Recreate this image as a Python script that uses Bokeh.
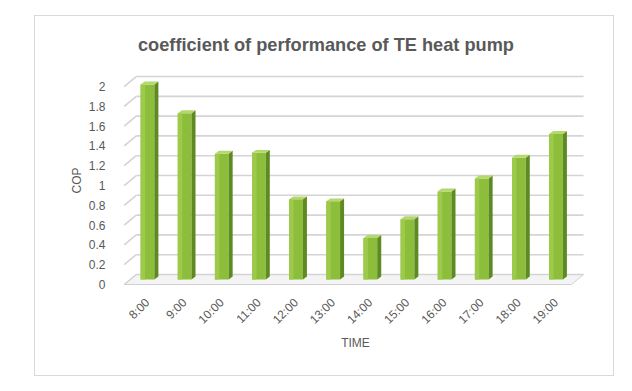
import math
from bokeh.plotting import figure
from bokeh.models import Range1d, FixedTicker, ColumnDataSource, Title
from bokeh.embed import file_html
from bokeh.resources import INLINE

# ---- data ----
times = ["8:00", "9:00", "10:00", "11:00", "12:00", "13:00",
         "14:00", "15:00", "16:00", "17:00", "18:00", "19:00"]
cop = [1.97, 1.68, 1.27, 1.28, 0.81, 0.79, 0.42, 0.61, 0.89, 1.02, 1.23, 1.47]
y_ticks = [0, 0.2, 0.4, 0.6, 0.8, 1, 1.2, 1.4, 1.6, 1.8, 2]
y_tick_labels = ["0", "0.2", "0.4", "0.6", "0.8", "1", "1.2", "1.4", "1.6", "1.8", "2"]
title_text = "coefficient of performance of TE heat pump"

# ---- 3D style constants (data units) ----
HALF_W = 0.185      # half width of bar front face
SIDE_DX = 0.108     # bar depth (x)
CAP_DY = 0.03       # bar depth (y)
LIFT = 0.05         # bars stand in the middle of the floor depth
WALL_DX = 0.323     # depth of the wall/floor (x)
WALL_DY = 0.101     # depth of the wall/floor (y)
FRONT_LEFT = 0.373
BACK_RIGHT = 12.74

idx = list(range(1, len(times) + 1))

p = figure(width=580, height=361,
           x_range=Range1d(0.246, 12.955), y_range=Range1d(-0.0707, 2.172),
           output_backend="svg", toolbar_location=None,
           min_border_left=84, min_border_right=24,
           min_border_top=53, min_border_bottom=86)
p.margin = (15, 0, 0, 34)
p.styles = {"border": "1px solid #d9d9d9", "box-sizing": "border-box"}
p.outline_line_color = None
p.grid.visible = False
p.background_fill_color = "white"
p.border_fill_color = "white"

p.title = Title(text=title_text, align="left", offset=18.5, standoff=30,
                text_font="Liberation Sans", text_font_size="18.2px",
                text_font_style="bold", text_color="#595959")

# floor
p.patch([FRONT_LEFT, BACK_RIGHT - WALL_DX, BACK_RIGHT, FRONT_LEFT + WALL_DX],
        [0, 0, WALL_DY, WALL_DY], fill_color="#f4f4f4", line_color="#d0d0d0", line_width=1)

# gridlines: left wall (slanted) and back wall
gl = ColumnDataSource(dict(
    x0=[FRONT_LEFT] * len(y_ticks), y0=y_ticks,
    x1=[FRONT_LEFT + WALL_DX] * len(y_ticks), y1=[v + WALL_DY for v in y_ticks],
    x2=[BACK_RIGHT] * len(y_ticks),
))
p.segment(x0="x0", y0="y0", x1="x1", y1="y1", source=gl, line_color="#d4d4d4", line_width=1.6)
p.segment(x0="x1", y0="y1", x1="x2", y1="y1", source=gl, line_color="#d4d4d4", line_width=1.6)

# bars
tops = [v + LIFT for v in cop]
bars = ColumnDataSource(dict(
    left=[i - HALF_W for i in idx], right=[i + HALF_W for i in idx],
    hl=[i - HALF_W + 0.12 for i in idx],
    bottom=[LIFT] * len(idx), top=tops,
    side_x=[[i + HALF_W, i + HALF_W + SIDE_DX, i + HALF_W + SIDE_DX, i + HALF_W] for i in idx],
    side_y=[[LIFT, LIFT + CAP_DY, t + CAP_DY, t] for t in tops],
    cap_x=[[i - HALF_W, i + HALF_W, i + HALF_W + SIDE_DX, i - HALF_W + SIDE_DX] for i in idx],
    cap_y=[[t, t, t + CAP_DY, t + CAP_DY] for t in tops],
))
p.quad(left="left", right="right", bottom="bottom", top="top", source=bars,
       fill_color="#8cbd3b", line_color=None)
p.quad(left="left", right="hl", bottom="bottom", top="top", source=bars,
       fill_color="#9dca4b", line_color=None)
p.patches(xs="side_x", ys="side_y", source=bars, fill_color="#5e8a22", line_color=None)
p.patches(xs="cap_x", ys="cap_y", source=bars, fill_color="#b4d86b", line_color=None)

# axes
p.xaxis.ticker = FixedTicker(ticks=idx)
p.xaxis.major_label_overrides = {i: t for i, t in zip(idx, times)}
p.xaxis.major_label_orientation = math.pi / 4
p.yaxis.ticker = FixedTicker(ticks=y_ticks)
p.yaxis.major_label_overrides = {v: t for v, t in zip(y_ticks, y_tick_labels)}
for ax in (p.xaxis[0], p.yaxis[0]):
    ax.axis_line_color = None
    ax.major_tick_line_color = None
    ax.minor_tick_line_color = None
    ax.major_label_text_font = "Liberation Sans"
    ax.major_label_text_font_size = "12px"
    ax.major_label_text_color = "#595959"
    ax.axis_label_text_font = "Liberation Sans"
    ax.axis_label_text_font_size = "12px"
    ax.axis_label_text_font_style = "normal"
    ax.axis_label_text_color = "#595959"
p.xaxis.axis_label = "TIME"
p.yaxis.axis_label = "COP"
p.yaxis.major_label_standoff = 8
p.yaxis.axis_label_standoff = 2
p.xaxis.major_label_standoff = 3
p.xaxis.axis_label_standoff = 1

open("out.html", "w").write(file_html(p, INLINE))
